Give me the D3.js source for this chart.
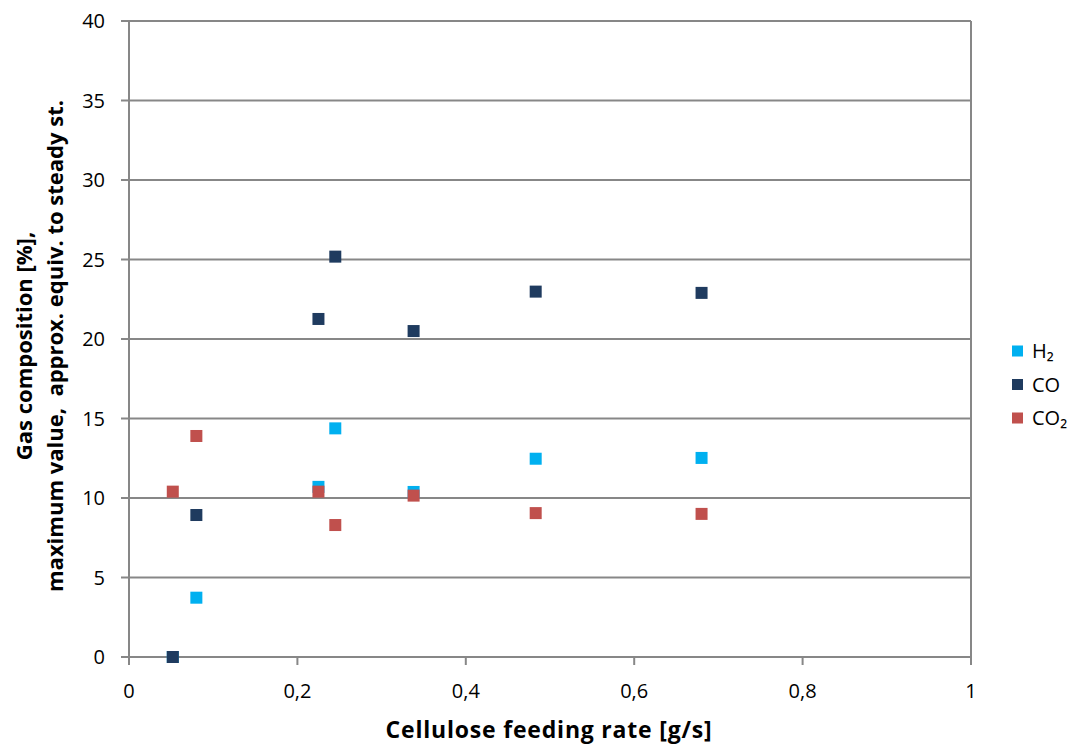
<!DOCTYPE html>
<html>
<head>
<meta charset="utf-8">
<script src="https://cdn.jsdelivr.net/npm/d3@7"></script>
<style>
  body { margin: 0; background: #fff; }
  svg text { font-family: "Open Sans", sans-serif; fill: #000; }
</style>
</head>
<body>
<div id="chart"></div>
<script>
// feeding rate [g/s] for each measurement
let feed_rate = [0.052, 0.08, 0.225, 0.245, 0.338, 0.483, 0.68];
// gas composition [%]
let h2_values = [0, 3.73, 10.7, 14.38, 10.38, 12.47, 12.52];
let co_values = [0, 8.93, 21.26, 25.18, 20.5, 22.98, 22.9];
let co2_values = [10.4, 13.9, 10.4, 8.3, 10.15, 9.05, 9.0];

let series_names = ['H\u2082', 'CO', 'CO\u2082'];
let series_colors = ['#00B0F0', '#1F3B5F', '#C0504D'];
let x_ticks = [0, 0.2, 0.4, 0.6, 0.8, 1];
let y_ticks = [0, 5, 10, 15, 20, 25, 30, 35, 40];

function draw_chart() {
    let width = 1081, height = 749;
    let plot = {left: 129, right: 971, top: 21, bottom: 657};

    let svg = d3.select('#chart').append('svg')
        .attr('width', width)
        .attr('height', height);

    let x = d3.scaleLinear().domain([0, 1]).range([plot.left, plot.right]);
    let y = d3.scaleLinear().domain([0, 40]).range([plot.bottom, plot.top]);
    let fmt = d => String(d).replace('.', ',');

    // horizontal grid lines
    svg.append('g')
        .selectAll('line')
        .data(y_ticks)
        .enter()
        .append('line')
        .attr('x1', plot.left - 8)
        .attr('x2', plot.right)
        .attr('y1', d => y(d))
        .attr('y2', d => y(d))
        .attr('stroke', '#878787')
        .attr('stroke-width', 2);

    // right border + left axis
    svg.append('line')
        .attr('x1', plot.right).attr('x2', plot.right)
        .attr('y1', plot.top).attr('y2', plot.bottom + 8)
        .attr('stroke', '#878787').attr('stroke-width', 2);
    svg.append('line')
        .attr('x1', plot.left).attr('x2', plot.left)
        .attr('y1', plot.top).attr('y2', plot.bottom + 8)
        .attr('stroke', '#878787').attr('stroke-width', 2);

    // x tick marks
    svg.append('g')
        .selectAll('line')
        .data(x_ticks)
        .enter()
        .append('line')
        .attr('x1', d => x(d))
        .attr('x2', d => x(d))
        .attr('y1', plot.bottom)
        .attr('y2', plot.bottom + 8)
        .attr('stroke', '#878787')
        .attr('stroke-width', 2);

    // tick labels
    svg.append('g')
        .selectAll('text')
        .data(y_ticks)
        .enter()
        .append('text')
        .attr('x', 105)
        .attr('y', d => y(d))
        .attr('dy', '0.36em')
        .attr('text-anchor', 'end')
        .style('font-size', '20px')
        .text(d => d);

    svg.append('g')
        .selectAll('text')
        .data(x_ticks)
        .enter()
        .append('text')
        .attr('x', d => x(d))
        .attr('y', 698)
        .attr('text-anchor', 'middle')
        .style('font-size', '20px')
        .text(fmt);

    // axis titles
    svg.append('text')
        .attr('x', 549)
        .attr('y', 738)
        .attr('text-anchor', 'middle')
        .style('font-size', '23px')
        .style('letter-spacing', '0.8px')
        .style('font-weight', 'bold')
        .text('Cellulose feeding rate [g/s]');

    let ytitle = svg.append('text')
        .attr('transform', 'translate(32,346) rotate(-90)')
        .attr('text-anchor', 'middle')
        .style('font-size', '22px')
        .style('font-weight', 'bold');
    ytitle.append('tspan').attr('x', 0).attr('dy', 0).text('Gas composition [%],');
    ytitle.append('tspan').attr('x', 0).attr('dy', 31)
        .style('white-space', 'pre')
        .text('maximum value,  approx. equiv. to steady st.');

    // markers
    let all_series = [h2_values, co_values, co2_values];
    all_series.forEach((vals, i) => {
        let pts = feed_rate.map((f, j) => ({x: f, y: vals[j]}));
        svg.append('g')
            .selectAll('rect')
            .data(pts)
            .enter()
            .append('rect')
            .attr('x', d => x(d.x) - 6)
            .attr('y', d => y(d.y) - 6)
            .attr('width', 12)
            .attr('height', 12)
            .attr('fill', series_colors[i]);
    });

    // legend
    let legend = svg.append('g')
        .selectAll('g')
        .data(series_names)
        .enter()
        .append('g')
        .attr('transform', (d, i) => 'translate(1012,' + (351 + i * 33.5) + ')');
    legend.append('rect')
        .attr('x', 0).attr('y', -5.5)
        .attr('width', 11).attr('height', 11)
        .attr('fill', (d, i) => series_colors[i]);
    legend.append('text')
        .attr('x', 20)
        .attr('dy', '0.36em')
        .style('font-size', '20px')
        .text(d => d);
}

draw_chart();
</script>
</body>
</html>
